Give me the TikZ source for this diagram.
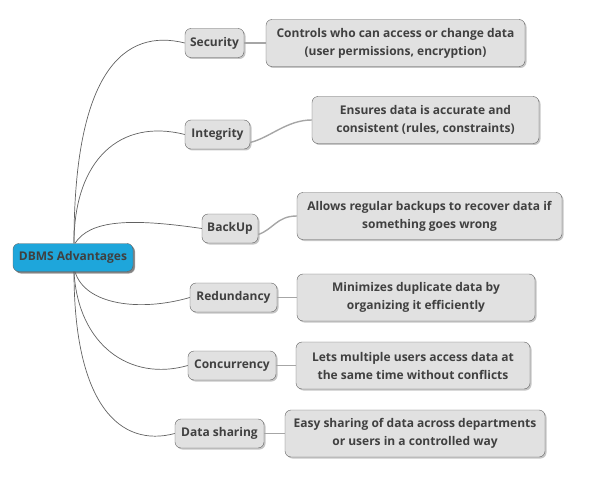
\documentclass[tikz,border=0pt]{standalone}
\usepackage{fontspec}
\setmainfont{Open Sans}
\usetikzlibrary{shadows}
\definecolor{rootblue}{HTML}{1EA6DB}
\definecolor{boxgrey}{HTML}{E1E1E1}
\definecolor{edgegrey}{HTML}{616161}
\definecolor{txtgrey}{HTML}{404040}
\begin{document}
\begin{tikzpicture}[x=1pt,y=-1pt,
topic/.style={draw=edgegrey, fill=boxgrey, rounded corners=6pt,
 drop shadow={shadow xshift=1.5pt, shadow yshift=-1.5pt, fill=black!45},
 text=txtgrey, font=\bfseries\fontsize{12}{18}\selectfont,
 minimum height=29pt, inner sep=0pt},
note/.style={topic, align=center, minimum height=47pt},
branch/.style={draw=edgegrey, line width=0.7pt},
leaf/.style={draw=black!35, line width=1.4pt}
]
\useasboundingbox (0,0) rectangle (597,492);

% centre
\node[topic, fill=rootblue, minimum width=120pt, minimum height=28pt,
 drop shadow={shadow xshift=2pt, shadow yshift=-2pt, fill=black!75}]
 (dbms) at (73,257.5) {DBMS Advantages};

% topics
\node[topic, minimum width=59pt] (sec) at (214.5,43) {Security};
\node[topic, minimum width=65pt] (integ) at (217.5,134.5) {Integrity};
\node[topic, minimum width=56pt] (backup) at (230,228.5) {BackUp};
\node[topic, minimum width=87pt] (redund) at (233.5,297.5) {Redundancy};
\node[topic, minimum width=88pt] (concur) at (232,365.5) {Concurrency};
\node[topic, minimum width=89pt] (share) at (219.5,433.5) {Data sharing};

% notes
\node[note, minimum width=259pt] (secnote) at (395.5,43)
 {Controls who can access or change data\\(user permissions, encryption)};
\node[note, minimum width=227pt] (integnote) at (425.5,120)
 {Ensures data is accurate and\\consistent (rules, constraints)};
\node[note, minimum width=265pt] (backupnote) at (429.5,216)
 {Allows regular backups to recover data if\\something goes wrong};
\node[note, minimum width=238pt] (redundnote) at (416,297.5)
 {Minimizes duplicate data by\\organizing it efficiently};
\node[note, minimum width=234pt] (concurnote) at (413,365.5)
 {Lets multiple users access data at\\the same time without conflicts};
\node[note, minimum width=260pt] (sharenote) at (415,433.5)
 {Easy sharing of data across departments\\or users in a controlled way};

% branches from the centre
\draw[branch] ([xshift=1pt]dbms.north) .. controls (74,70) and (125,28) .. (sec.west);
\draw[branch] ([xshift=1pt]dbms.north) .. controls (74,160) and (120,118) .. (integ.west);
\draw[branch] ([xshift=2pt]dbms.north) .. controls (90,220) and (130,218) .. (backup.west);
\draw[branch] ([xshift=2pt]dbms.south) .. controls (85,305) and (140,312) .. (redund.west);
\draw[branch] ([xshift=1pt]dbms.south) .. controls (78,345) and (130,382) .. (concur.west);
\draw[branch] ([xshift=1pt]dbms.south) .. controls (74,405) and (120,448) .. (share.west);

% topic to note
\draw[leaf] (sec) -- (secnote);
\draw[leaf] ([yshift=-8pt]integ.east) .. controls +(20,-5) and +(-25,0) .. (integnote.west);
\draw[leaf] ([yshift=-6pt]backup.east) .. controls +(15,-5) and +(-20,0) .. (backupnote.west);
\draw[leaf] (redund) -- (redundnote);
\draw[leaf] (concur) -- (concurnote);
\draw[leaf] (share) -- (sharenote);

\end{tikzpicture}
\end{document}
